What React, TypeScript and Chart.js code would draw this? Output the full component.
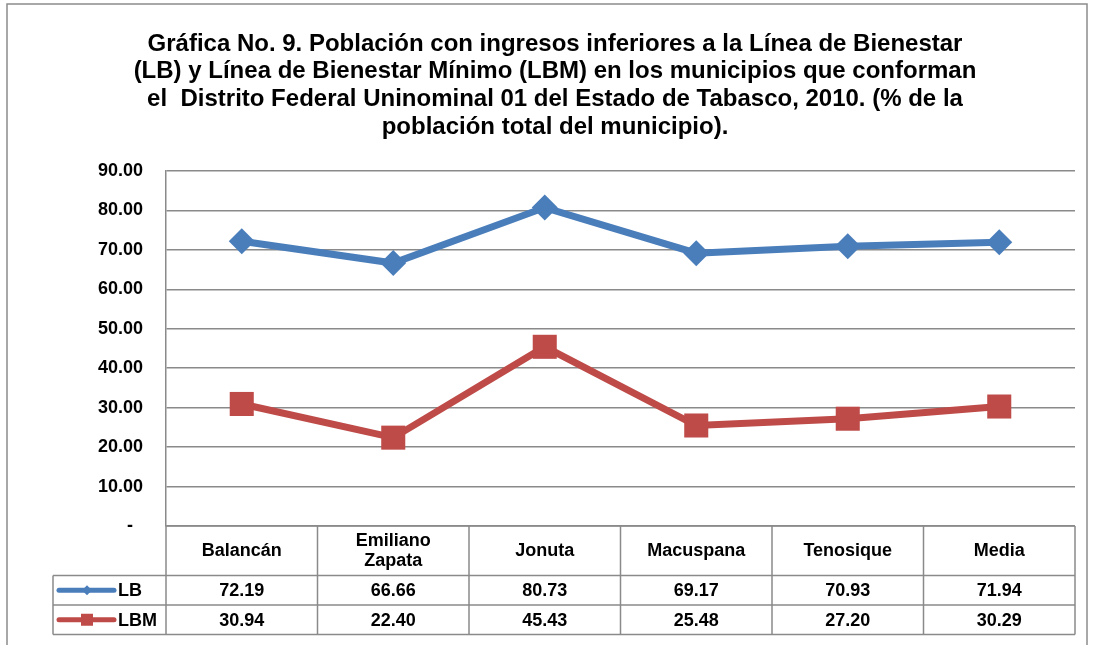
import React, { useEffect, useRef } from "react";
import { Chart, registerables } from "chart.js";

Chart.register(...registerables);

const titleLines = [
  "Gráfica No. 9. Población con ingresos inferiores a la Línea de Bienestar",
  "(LB) y Línea de Bienestar Mínimo (LBM) en los municipios que conforman",
  "el  Distrito Federal Uninominal 01 del Estado de Tabasco, 2010. (% de la",
  "población total del municipio).",
];

const categories: (string | string[])[] = [
  "Balancán",
  ["Emiliano", "Zapata"],
  "Jonuta",
  "Macuspana",
  "Tenosique",
  "Media",
];

const lbValues = [72.19, 66.66, 80.73, 69.17, 70.93, 71.94];
const lbmValues = [30.94, 22.4, 45.43, 25.48, 27.2, 30.29];
const seriesNames = ["LB", "LBM"];
const seriesColors = ["#4A7EBB", "#BE4B48"];
const seriesMarkers = ["rectRot", "rect"];

const yMin = 0;
const yMax = 90;
const yStep = 10;

const FONT = "'Liberation Sans', Arial, sans-serif";
const GRID = "#8a8a8a";

function drawMarker(ctx: CanvasRenderingContext2D, kind: string, x: number, y: number, r: number, color: string) {
  ctx.save();
  ctx.fillStyle = color;
  ctx.beginPath();
  if (kind === "rectRot") {
    ctx.moveTo(x, y - r);
    ctx.lineTo(x + r, y);
    ctx.lineTo(x, y + r);
    ctx.lineTo(x - r, y);
    ctx.closePath();
  } else {
    ctx.rect(x - r, y - r, 2 * r, 2 * r);
  }
  ctx.fill();
  ctx.restore();
}

const framePlugin = {
  id: "frameTitle",
  beforeDraw(chart: any) {
    const ctx: CanvasRenderingContext2D = chart.ctx;
    ctx.save();
    ctx.fillStyle = "#ffffff";
    ctx.fillRect(0, 0, chart.width, chart.height);
    ctx.strokeStyle = "#8c8c8c";
    ctx.lineWidth = 1.5;
    ctx.strokeRect(7, 4, 1080, 800);
    ctx.fillStyle = "#000000";
    ctx.font = `bold 24px ${FONT}`;
    ctx.textAlign = "center";
    ctx.textBaseline = "middle";
    titleLines.forEach((t, i) => ctx.fillText(t, 555, 44 + i * 27.7));
    ctx.restore();
  },
};

const tablePlugin = {
  id: "dataTable",
  afterDraw(chart: any) {
    const ctx: CanvasRenderingContext2D = chart.ctx;
    const area = chart.chartArea;
    const n = categories.length;
    const colW = (area.right - area.left) / n;
    const headTop = area.bottom;
    const headBottom = headTop + 49.5;
    const rowH = 29.5;
    const legendLeft = 53;
    const bottom = headBottom + rowH * 2;
    const series = [lbValues, lbmValues];

    ctx.save();
    ctx.strokeStyle = GRID;
    ctx.lineWidth = 1.5;
    ctx.beginPath();
    for (let i = 0; i <= n; i++) {
      const x = area.left + i * colW;
      ctx.moveTo(x, headTop);
      ctx.lineTo(x, bottom);
    }
    ctx.moveTo(area.left, headTop);
    ctx.lineTo(area.right, headTop);
    for (let r = 0; r <= 2; r++) {
      const y = headBottom + r * rowH;
      ctx.moveTo(legendLeft, y);
      ctx.lineTo(area.right, y);
    }
    ctx.moveTo(legendLeft, headBottom);
    ctx.lineTo(legendLeft, bottom);
    ctx.stroke();

    ctx.fillStyle = "#000";
    ctx.textAlign = "center";
    ctx.textBaseline = "middle";
    ctx.font = `bold 18px ${FONT}`;
    const xs = chart.scales.x;
    categories.forEach((c, i) => {
      const cx = xs.getPixelForValue(i);
      const lines = Array.isArray(c) ? c : [c];
      const cy = (headTop + headBottom) / 2;
      lines.forEach((l, j) => {
        ctx.fillText(l, cx, cy + (j - (lines.length - 1) / 2) * 20);
      });
    });

    ctx.font = `bold 18px ${FONT}`;
    series.forEach((vals, r) => {
      const cy = headBottom + rowH * r + rowH / 2 + 1;
      vals.forEach((v, i) => {
        ctx.fillStyle = "#000";
        ctx.textAlign = "center";
        ctx.fillText(v.toFixed(2), xs.getPixelForValue(i), cy);
      });
      ctx.strokeStyle = seriesColors[r];
      ctx.lineWidth = 5;
      ctx.lineCap = "round";
      ctx.beginPath();
      ctx.moveTo(59, cy - 1);
      ctx.lineTo(114, cy - 1);
      ctx.stroke();
      drawMarker(ctx, seriesMarkers[r], 87, cy - 1, r === 0 ? 5 : 6, seriesColors[r]);
      ctx.fillStyle = "#000";
      ctx.textAlign = "left";
      ctx.fillText(seriesNames[r], 118, cy);
    });
    ctx.restore();
  },
};

export default function App() {
  const ref = useRef<HTMLCanvasElement>(null);
  useEffect(() => {
    document.body.style.margin = "0";
    const chart = new Chart(ref.current!, {
      type: "line",
      data: {
        labels: categories as any,
        datasets: [
          {
            label: seriesNames[0],
            data: lbValues,
            borderColor: seriesColors[0],
            backgroundColor: seriesColors[0],
            borderWidth: 7,
            pointStyle: "rectRot",
            pointRadius: 13,
            pointBorderWidth: 0,
            tension: 0,
          },
          {
            label: seriesNames[1],
            data: lbmValues,
            borderColor: seriesColors[1],
            backgroundColor: seriesColors[1],
            borderWidth: 7,
            pointStyle: "rect",
            pointRadius: 17,
            pointBorderWidth: 0,
            tension: 0,
          },
        ],
      },
      options: {
        animation: false,
        responsive: false,
        layout: { padding: { top: 171, bottom: 119, right: 18, left: 0 } },
        plugins: {
          legend: { display: false },
          title: { display: false },
          tooltip: { enabled: false },
        },
        scales: {
          x: { display: false, offset: true },
          y: {
            min: yMin,
            max: yMax,
            afterFit: (s: any) => {
              s.width = 166;
            },
            border: { display: true, color: GRID, width: 1.5 },
            grid: { color: GRID, lineWidth: 1.5, drawTicks: false },
            ticks: {
              stepSize: yStep,
              padding: 23,
              color: "#000",
              font: { family: FONT, size: 18, weight: "bold" },
              callback: (v: any) => (Number(v) === 0 ? "-  " : Number(v).toFixed(2)),
            },
          },
        },
      },
      plugins: [framePlugin, tablePlugin],
    });
    return () => chart.destroy();
  }, []);
  return <canvas ref={ref} width={1093} height={645} style={{ display: "block" }} />;
}
